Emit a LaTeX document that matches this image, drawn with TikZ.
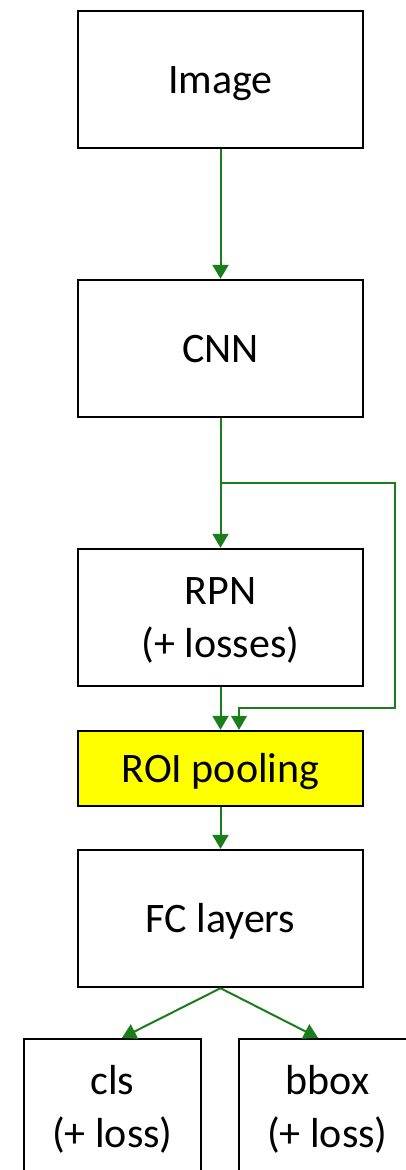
\documentclass[tikz,border=0pt]{standalone}
\usepackage{fontspec}
\setmainfont{Carlito}
\usetikzlibrary{arrows.meta,calc}
\definecolor{FlowGreen}{HTML}{1A7F1A}
\definecolor{RoiYellow}{HTML}{FFFF00}

\begin{document}
\begin{tikzpicture}[x=1pt,y=-1pt,every node/.style={font=\fontsize{42}{53}\selectfont,text=black},box/.style={draw=black,line width=2.4pt,fill=white,inner sep=0pt,text height=30pt,text depth=2.5pt,minimum width=285pt,minimum height=137pt,align=center},twoline/.style={text height=82pt,text depth=2.5pt},flow/.style={-{Triangle[width=16pt,length=14pt]},line width=2pt,draw=FlowGreen},thinflow/.style={-{Triangle[width=16pt,length=14pt]},line width=1.1pt,draw=FlowGreen}]
\useasboundingbox[fill=white] (0,0) rectangle (405,1170);

\node[box] (img) at (220.5,79.5) {Image}; \node[box] (cnn) at (220.5,348.5) {CNN}; \node[box,twoline] (rpn) at (220.5,617.5) {RPN\\(+ losses)};
\node[box,fill=RoiYellow,minimum height=75pt] (roi) at (220.5,768.5) {ROI pooling}; \node[box] (fc) at (220.5,918.5) {FC layers};
\node[box,twoline,minimum width=177pt] (cls) at (112.5,1107.5) {cls\\(+ loss)}; \node[box,twoline,minimum width=177pt] (bbox) at (327.5,1107.5) {bbox\\(+ loss)};
\draw[flow] (img)--(cnn); \draw[flow] (cnn)--(rpn); \draw[flow] (rpn)--(roi); \draw[flow] (roi)--(fc);
\coordinate (split) at (220.5,483); \coordinate (joint) at (239,708);
\draw[thinflow] (split)--(395,483)--(395,708)--(joint)--(joint|-roi.north);
\draw[flow] (fc.south)--($(cls.north)+(9.5,0)$); \draw[flow] (fc.south)--($(bbox.north)+(-9.5,0)$);

\end{tikzpicture}
\end{document}
